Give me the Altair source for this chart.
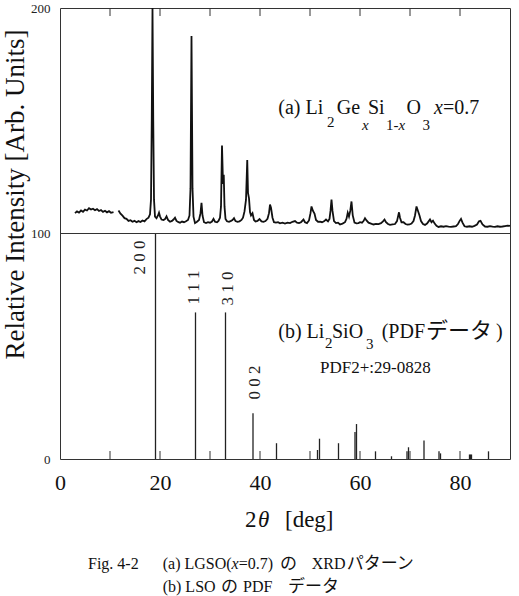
import altair as alt
import pandas as pd

FONT = "Liberation Serif, Noto Sans CJK JP"

# ---------------- (a) measured XRD pattern, Li2GexSi1-xO3 x=0.7 ----------------
seg1_2theta = [3.0, 3.4, 3.8, 4.2, 4.6, 5.0, 5.4, 5.8, 6.2, 6.6, 7.0, 7.4, 7.8, 8.2,
               8.6, 9.0, 9.4, 9.8, 10.2, 10.7]
seg1_int = [109.0, 109.8, 109.3, 110.2, 109.6, 110.6, 110.2, 111.2, 110.6, 111.0, 110.3,
            110.8, 110.0, 110.4, 109.6, 110.1, 109.4, 109.9, 109.2, 109.5]

seg2_2theta = [11.7, 12.1, 12.5, 12.9, 13.3, 13.7, 14.1, 14.5, 14.9, 15.3, 15.7, 16.1, 16.5,
               16.9, 17.3, 17.7, 18.0, 18.2, 18.35, 18.5, 18.65, 18.8, 19.0, 19.3, 19.6,
               19.8, 20.0, 20.3, 20.7, 21.0, 21.3, 21.6, 22.0, 22.4, 22.7, 23.0, 23.3,
               23.7, 24.0, 24.4, 24.8, 25.2, 25.6, 25.9, 26.1, 26.3, 26.5, 26.7, 27.0,
               27.4, 27.8, 28.1, 28.3, 28.5, 28.8, 29.2, 29.6, 30.0, 30.4, 30.7, 31.0,
               31.4, 31.7, 32.0, 32.2, 32.4, 32.6, 32.75, 32.9, 33.1, 33.4, 33.8, 34.2,
               34.5, 34.8, 35.1, 35.5, 35.9, 36.3, 36.6, 36.9, 37.2, 37.45, 37.6, 37.8,
               38.0, 38.2, 38.5, 38.8, 39.1, 39.5, 39.9, 40.3, 40.7, 41.1, 41.5, 41.8,
               42.0, 42.2, 42.5, 42.8, 43.2, 43.6, 44.0, 44.5, 45.0, 45.5, 46.0, 46.5,
               47.0, 47.4, 47.8, 48.2, 48.7, 49.0, 49.4, 49.8, 50.1, 50.3, 50.6, 50.9,
               51.2, 51.6, 52.0, 52.4, 52.8, 53.2, 53.6, 53.9, 54.1, 54.3, 54.5, 54.8,
               55.2, 55.6, 56.0, 56.5, 57.0, 57.3, 57.55, 57.8, 58.05, 58.3, 58.55, 58.9,
               59.3, 59.7, 60.0, 60.4, 60.7, 61.0, 61.3, 61.7, 62.2, 62.7, 63.2, 63.7,
               64.2, 64.6, 64.9, 65.2, 65.6, 66.0, 66.5, 67.0, 67.4, 67.6, 67.8, 68.0,
               68.3, 68.7, 69.1, 69.5, 69.9, 70.3, 70.7, 71.0, 71.3, 71.6, 71.9, 72.2,
               72.6, 73.0, 73.4, 73.8, 74.0, 74.3, 74.6, 74.9, 75.3, 75.7, 76.2, 76.7,
               77.2, 77.7, 78.2, 78.7, 79.2, 79.6, 79.9, 80.2, 80.5, 80.9, 81.4, 81.9,
               82.4, 82.9, 83.4, 83.8, 84.1, 84.5, 85.0, 85.5, 86.0, 86.5, 87.0, 87.5,
               88.0, 88.5, 89.0, 89.5, 90.0]
seg2_int = [110.2, 108.8, 107.9, 106.8, 106.5, 105.6, 105.9, 105.2, 105.6, 105.0, 105.5,
            105.1, 105.8, 105.4, 106.4, 107.0, 108.5, 115.0, 150.0, 200.0, 150.0, 115.0,
            107.5, 106.8, 108.0, 109.2, 107.6, 106.2, 106.0, 106.4, 107.6, 106.0, 105.2,
            105.6, 106.2, 107.0, 105.6, 105.0, 104.8, 105.3, 105.0, 105.4, 106.0, 108.0,
            120.0, 187.6, 120.0, 107.5, 104.6, 105.2, 106.0, 109.0, 113.6, 108.0, 105.0,
            104.6, 105.0, 104.8, 105.3, 106.5, 105.2, 105.0, 105.6, 107.0, 112.0, 139.0,
            122.0, 126.0, 112.0, 106.5, 105.4, 105.2, 105.6, 106.0, 106.8, 105.5, 105.2,
            105.4, 106.0, 107.0, 109.8, 115.0, 132.6, 118.0, 115.6, 109.5, 108.0, 109.0,
            106.0, 105.3, 105.6, 106.4, 105.4, 105.2, 105.5, 106.5, 109.0, 112.8, 111.4,
            107.0, 105.0, 104.8, 105.0, 104.5, 104.8, 104.4, 104.8, 104.6, 105.2, 105.5,
            104.8, 104.6, 105.0, 106.2, 105.0, 104.6, 105.8, 109.0, 112.0, 110.0, 108.8,
            106.0, 105.2, 105.3, 105.0, 105.4, 106.2, 105.4, 106.5, 110.0, 115.0, 110.0,
            105.5, 104.6, 104.8, 104.0, 104.4, 105.0, 106.5, 109.2, 107.5, 110.0, 114.2,
            108.0, 104.8, 104.5, 104.6, 105.0, 104.8, 105.5, 106.8, 105.8, 104.8, 104.4,
            104.0, 104.3, 104.2, 104.6, 105.4, 106.2, 105.0, 104.2, 103.8, 104.0, 104.2,
            105.5, 107.5, 109.4, 107.0, 105.0, 105.0, 104.2, 103.9, 104.0, 104.4, 105.5,
            108.0, 112.0, 110.0, 108.0, 105.5, 104.2, 103.8, 104.4, 105.6, 106.2, 105.0,
            105.7, 104.5, 103.4, 102.9, 103.2, 103.0, 103.3, 103.0, 102.9, 103.1, 103.3,
            104.2, 105.5, 106.5, 104.8, 103.2, 103.0, 103.2, 103.0, 103.4, 104.0, 105.4,
            105.6, 104.0, 103.1, 103.0, 103.3, 103.0, 102.9, 103.2, 103.0, 103.1, 103.3,
            103.5, 103.4]

# ---------------- (b) Li2SiO3 PDF stick data ----------------
pdf_2theta = [19.1, 27.1, 33.1, 38.6, 43.3, 51.5, 51.9, 55.7, 59.0, 59.3, 63.1, 66.3,
              69.4, 69.7, 72.8, 75.8, 76.1, 81.9, 82.1, 82.3, 85.7]
pdf_int = [100, 65, 65, 20.3, 7, 4, 9, 7, 12, 15.5, 3.4, 1.2, 3.4, 5.2, 8.2, 3.4, 2.5,
           2, 2, 2, 3.4]

hkl_text = ["2 0 0", "1 1 1", "3 1 0", "0 0 2"]
hkl_x = [16.07, 26.8, 33.6, 39.0]
hkl_y = [89.4, 76.0, 75.6, 33.9]

x_tick_labels = [0, 20, 40, 60, 80]
y_tick_labels = [0, 100, 200]
minor_ticks = [10, 20, 30, 40, 50, 60, 70, 80]

# ---------------- annotation text pieces (data coordinates) ----------------
reg_text = ["(a) Li", "2", "Ge", "Si", "1-", "O", "3", "=0.7",
            "(b) Li", "2", "SiO", "3", "(PDF", "データ", ")",
            "PDF2+:29-0828",
            "2", "[deg]",
            "Fig. 4-2", "(a) LGSO(", "=0.7)", "の", "XRD", "パターン",
            "(b) LSO", "の", "PDF", "データ"]
reg_x = [43.66, 53.4, 55.34, 61.6, 65.2, 69.3, 72.5, 76.58,
         43.66, 53.0, 54.4, 61.2, 64.34, 73.2, 87.2,
         52.0,
         37.0, 45.0,
         5.6, 20.54, 35.74, 44.0, 50.34, 57.34,
         20.54, 32.2, 36.6, 45.6]
reg_y = [153.0, 147.4, 153.0, 153.0, 145.9, 153.0, 145.9, 153.0,
         53.5, 49.1, 53.5, 48.8, 53.5, 53.5, 53.5,
         38.0,
         -30.3, -30.3,
         -48.8, -48.8, -48.8, -48.8, -48.8, -48.8,
         -59.0, -59.0, -59.0, -59.0]
reg_size = [20, 15, 20, 20, 15, 20, 15, 20,
            20, 15, 20, 15, 20, 22, 20,
            17,
            23, 23,
            16, 16, 16, 17, 16, 17,
            16, 17, 16, 17]

ital_text = ["x", "x", "x", "θ", "x"]
ital_x = [60.4, 67.7, 74.8, 39.6, 34.32]
ital_y = [145.9, 145.9, 153.0, -30.3, -48.8]
ital_size = [15, 15, 20, 23, 16]

# ---------------- chart ----------------
xs = alt.Scale(domain=[0, 90], nice=False, zero=False)
ys = alt.Scale(domain=[0, 200], nice=False, zero=False)
x_axis = alt.Axis(values=x_tick_labels, title=None, domain=False, ticks=False, grid=False,
                  labelFontSize=22, labelPadding=13, labelFlush=False,
                  labelFont="Liberation Serif", labelColor="#111")
y_axis = alt.Axis(values=y_tick_labels, title="Relative Intensity [Arb. Units]",
                  domain=False, ticks=False, grid=False, labelFontSize=13, labelPadding=10,
                  labelFont="Liberation Serif", labelColor="#222", titleFont="Liberation Serif",
                  titleFontSize=27, titleFontWeight="normal", titleColor="#111",
                  titleAngle=270, titleX=-44.5, titleY=186, titleAlign="center",
                  titleBaseline="middle")


def X(field="x"):
    return alt.X(f"{field}:Q", scale=xs, axis=x_axis)


def Y(field="y"):
    return alt.Y(f"{field}:Q", scale=ys, axis=y_axis)


xrd_df = pd.DataFrame({
    "x": seg1_2theta + seg2_2theta,
    "y": seg1_int + seg2_int,
    "seg": ["s1"] * len(seg1_2theta) + ["s2"] * len(seg2_2theta),
})
xrd = alt.Chart(xrd_df).mark_line(color="#111", strokeWidth=1.8).encode(
    x=X(), y=Y(), detail="seg:N", order="x:Q")

sticks = alt.Chart(pd.DataFrame({"x": pdf_2theta, "y": pdf_int})).mark_rule(
    color="#222", strokeWidth=1.3).encode(x=X(), y=Y(), y2=alt.datum(0))

divider = alt.Chart(pd.DataFrame({"y": [100]})).mark_rule(
    color="#333", strokeWidth=1).encode(y=Y())

ticks_df = pd.DataFrame({"x": minor_ticks})
ticks_bottom = alt.Chart(ticks_df).mark_rule(color="#333", strokeWidth=1).encode(
    x=X(), y=alt.value(451), y2=alt.value(443))
ticks_top = alt.Chart(ticks_df).mark_rule(color="#333", strokeWidth=1).encode(
    x=X(), y=alt.value(0), y2=alt.value(8))

hkl = alt.Chart(pd.DataFrame({"x": hkl_x, "y": hkl_y, "t": hkl_text})).mark_text(
    angle=270, align="center", baseline="middle", font=FONT, fontSize=17,
    color="#222").encode(x=X(), y=Y(), text="t:N")

reg = alt.Chart(pd.DataFrame({"x": reg_x, "y": reg_y, "t": reg_text, "s": reg_size})).mark_text(
    align="left", baseline="alphabetic", font=FONT, color="#111").encode(
    x=X(), y=Y(), text="t:N", size=alt.Size("s:Q", scale=None, legend=None))

ital = alt.Chart(pd.DataFrame({"x": ital_x, "y": ital_y, "t": ital_text, "s": ital_size})).mark_text(
    align="left", baseline="alphabetic", font=FONT, fontStyle="italic", color="#111").encode(
    x=X(), y=Y(), text="t:N", size=alt.Size("s:Q", scale=None, legend=None))

chart = alt.layer(sticks, divider, ticks_bottom, ticks_top, xrd, hkl, reg, ital).properties(
    width=450, height=451,
    autosize=alt.AutoSizeParams(type="none"),
    padding={"left": 60, "top": 8, "right": 9, "bottom": 137},
    background="white",
).configure_view(stroke="#333", strokeWidth=1)

chart.save("out.html", embed_options={"renderer": "svg", "actions": False})
